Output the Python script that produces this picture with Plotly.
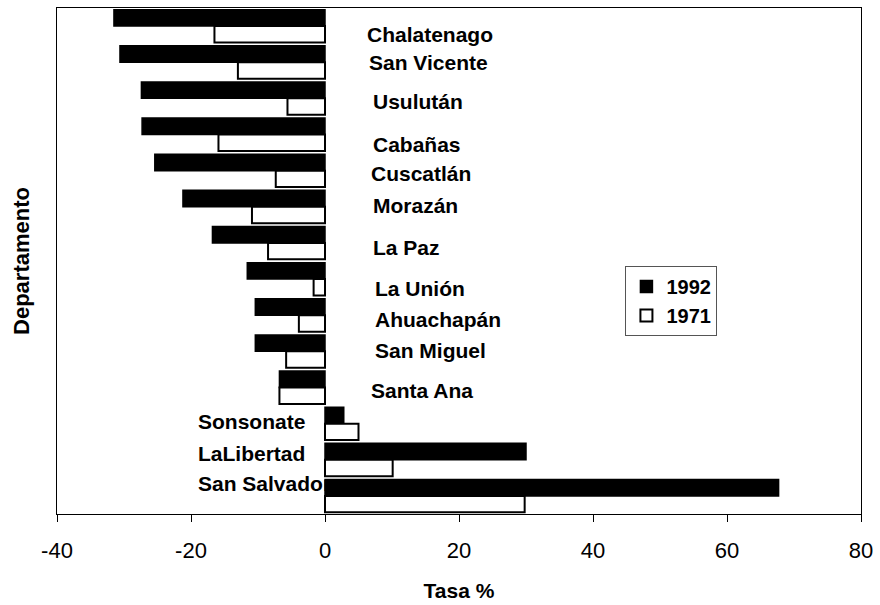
import plotly.graph_objects as go

# Departments, top to bottom
departamentos = ["Chalatenago", "San Vicente", "Usulután", "Cabañas", "Cuscatlán",
                 "Morazán", "La Paz", "La Unión", "Ahuachapán", "San Miguel",
                 "Santa Ana", "Sonsonate", "LaLibertad", "San Salvador"]

# Growth rate (%) per department
tasa_1992 = [-31.5, -30.6, -27.4, -27.3, -25.4, -21.2, -16.8, -11.6, -10.4, -10.4,
             -6.8, 2.8, 30.0, 67.7]
tasa_1971 = [-16.5, -13.0, -5.6, -15.9, -7.35, -10.9, -8.5, -1.7, -3.9, -5.8,
             -6.8, 5.0, 10.1, 29.8]

# x-axis ticks (plain hyphen for negatives)
x_ticks = [-40, -20, 0, 20, 40, 60, 80]
x_tick_labels = ["-40", "-20", "0", "20", "40", "60", "80"]

FONT = "Liberation Sans, Arial, sans-serif"

fig = go.Figure()
fig.add_trace(go.Bar(
    name="1992", y=departamentos, x=tasa_1992, orientation="h",
    marker=dict(color="black", line=dict(color="black", width=1.5)),
))
fig.add_trace(go.Bar(
    name="1971", y=departamentos, x=tasa_1971, orientation="h",
    marker=dict(color="white", line=dict(color="black", width=2)),
))

# Department names written inside the plot area (pixel offsets from x=0)
label_style = {
    "Chalatenago": (40, -8), "San Vicente": (42, 0), "Usulután": (46, -3),
    "Cabañas": (46, -10), "Cuscatlán": (44, -3), "Morazán": (46, 1),
    "La Paz": (46, -5), "La Unión": (48, -9), "Ahuachapán": (48, -4),
    "San Miguel": (48, 1), "Santa Ana": (44, -3), "Sonsonate": (-129, 2),
    "LaLibertad": (-129, 6), "San Salvador": (-129, 12),
}
for name in departamentos:
    dx, dy = label_style[name]
    fig.add_annotation(
        x=0, y=name, xref="x", yref="y", text=f"<b>{name}</b>",
        showarrow=False, xanchor="left", yanchor="middle",
        xshift=dx, yshift=dy,
        font=dict(family=FONT, size=21, color="black"),
    )

fig.update_layout(
    width=880, height=605,
    margin=dict(l=57, r=17, t=7, b=89),
    paper_bgcolor="white", plot_bgcolor="white",
    barmode="group", bargap=0.09, bargroupgap=0,
    font=dict(family=FONT, size=20, color="black"),
    showlegend=True,
    legend=dict(
        x=0.707, y=0.49, xanchor="left", yanchor="top",
        bordercolor="#555", borderwidth=1, bgcolor="white",
        font=dict(family=FONT, size=20, color="black", weight="bold"),
        traceorder="normal", tracegroupgap=0,
    ),
    xaxis=dict(
        range=[-40, 80], tickvals=x_ticks, ticktext=x_tick_labels,
        showgrid=False, zeroline=False,
        showline=True, linecolor="black", linewidth=1, mirror=True,
        ticks="outside", ticklen=7, tickcolor="black",
        ticklabelstandoff=10,
        tickfont=dict(family=FONT, size=22, color="black"),
        title=dict(text="<b>Tasa %</b>", standoff=20,
                   font=dict(family=FONT, size=21, color="black")),
    ),
    yaxis=dict(
        type="category", categoryorder="array", categoryarray=departamentos,
        range=[13.5, -0.5],
        showgrid=False, zeroline=False,
        showline=True, linecolor="black", linewidth=1, mirror=True,
        showticklabels=False, ticks="",
        title=dict(text="<b>Departamento</b>", standoff=20,
                   font=dict(family=FONT, size=22, color="black")),
    ),
)

fig.write_html("out.html")
